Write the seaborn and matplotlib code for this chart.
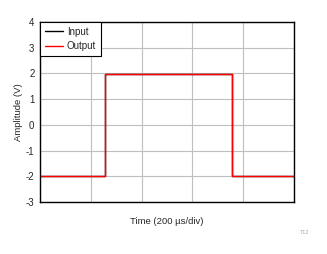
import matplotlib
matplotlib.use("Agg")
import matplotlib.pyplot as plt
import seaborn as sns

# time in divisions (200 us/div)
input_time = [0.0, 1.28, 1.28, 3.77, 3.77, 5.0]
input_amp = [-2.0, -2.0, 1.97, 1.97, -2.0, -2.0]
output_time = [0.0, 1.27, 1.27, 3.77, 3.77, 5.0]
output_amp = [-2.0, -2.0, 1.97, 1.97, -2.0, -2.0]
y_ticks = [-3, -2, -1, 0, 1, 2, 3, 4]

sns.set_theme(style="white")
plt.rcParams['font.family'] = ['Liberation Sans', 'DejaVu Sans']

fig = plt.figure(figsize=(3.27, 2.54), dpi=100)
ax = fig.add_axes([40/327, 1 - 202/254, 254/327, 180/254])
sns.lineplot(x=input_time, y=input_amp, sort=False, estimator=None, color="black",
             linewidth=1.0, ax=ax, label="Input")
sns.lineplot(x=output_time, y=output_amp, sort=False, estimator=None, color="red",
             linewidth=1.0, ax=ax, label="Output")

ax.set_xlim(0, 5)
ax.set_ylim(-3, 4)
ax.set_xticks([0, 1, 2, 3, 4, 5])
ax.set_xticklabels([])
ax.set_yticks(y_ticks)
ax.set_yticklabels([str(v) for v in y_ticks], fontsize=7)
ax.tick_params(axis='y', length=0, pad=4)
ax.tick_params(axis='x', length=0)
ax.grid(True, color="#bfbfbf", linewidth=0.8)
for sp in ax.spines.values():
    sp.set_color("black")
    sp.set_linewidth(1.0)
ax.set_xlabel("Time (200 µs/div)", fontsize=6.8, labelpad=7)
ax.set_ylabel("Amplitude (V)", fontsize=6.8, labelpad=2)

leg = ax.legend(loc="upper left", fontsize=7, frameon=True, fancybox=False,
                borderaxespad=0, handlelength=1.85, handletextpad=0.4,
                borderpad=0.5, labelspacing=0.45)
leg.get_frame().set_edgecolor("black")
leg.get_frame().set_linewidth(0.8)
leg.get_frame().set_alpha(1)

fig.text(305/327, 1 - 233/254, "T12", fontsize=4, color="#aaaaaa", ha="center", va="center")

fig.savefig("out.png", dpi=100)
